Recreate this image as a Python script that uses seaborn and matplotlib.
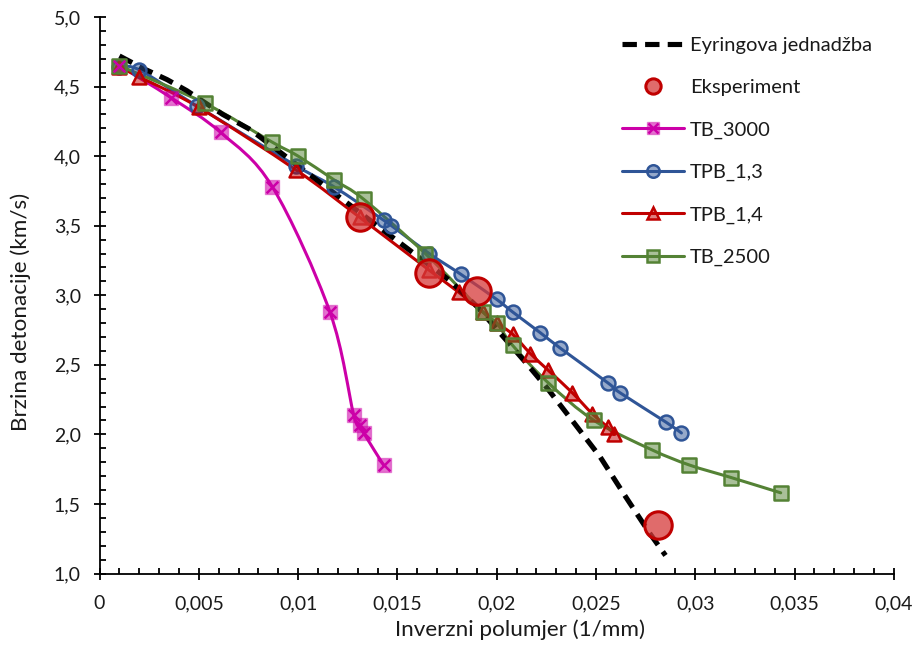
import numpy as np
import matplotlib
matplotlib.use("Agg")
import matplotlib.pyplot as plt
import seaborn as sns
from matplotlib.path import Path
from matplotlib.patches import PathPatch
from matplotlib.lines import Line2D
from matplotlib.ticker import MultipleLocator, FixedLocator, FixedFormatter

# ---------------- data ----------------
eyring_x = [0.001, 0.0022, 0.0034, 0.0044, 0.0062, 0.0076, 0.0100, 0.0125, 0.0150,
            0.0176, 0.0190, 0.0215, 0.0225, 0.0238, 0.0252, 0.0265, 0.0277, 0.0285]
eyring_y = [4.72, 4.63, 4.55, 4.47, 4.30, 4.19, 3.93, 3.66, 3.39,
            3.11, 2.92, 2.51, 2.34, 2.10, 1.84, 1.55, 1.29, 1.13]

exp_x = [0.0131, 0.0166, 0.0190, 0.0281]
exp_y = [3.56, 3.16, 3.03, 1.35]

tb3000_x = [0.001, 0.0036, 0.0061, 0.0087, 0.0116, 0.0128, 0.0131, 0.0133, 0.0143]
tb3000_y = [4.65, 4.42, 4.17, 3.78, 2.88, 2.14, 2.07, 2.01, 1.78]

tpb13_x = [0.001, 0.0020, 0.0049, 0.0099, 0.0118, 0.0143, 0.0147, 0.0166, 0.0182,
           0.0200, 0.0208, 0.0222, 0.0232, 0.0256, 0.0262, 0.0285, 0.0293]
tpb13_y = [4.64, 4.62, 4.36, 3.93, 3.78, 3.54, 3.50, 3.30, 3.15,
           2.97, 2.88, 2.73, 2.62, 2.37, 2.30, 2.09, 2.01]

tpb14_x = [0.001, 0.0020, 0.0050, 0.0099, 0.0131, 0.0166, 0.0181, 0.0193, 0.0200,
           0.0208, 0.0217, 0.0226, 0.0238, 0.0248, 0.0256, 0.0259]
tpb14_y = [4.64, 4.57, 4.35, 3.90, 3.56, 3.18, 3.02, 2.88, 2.80,
           2.72, 2.58, 2.46, 2.30, 2.15, 2.05, 2.00]

tb2500_x = [0.001, 0.0053, 0.0087, 0.0100, 0.0118, 0.0133, 0.0164, 0.0193, 0.0200,
            0.0208, 0.0226, 0.0249, 0.0278, 0.0297, 0.0318, 0.0343]
tb2500_y = [4.65, 4.38, 4.10, 4.00, 3.83, 3.69, 3.30, 2.88, 2.80,
            2.64, 2.37, 2.10, 1.89, 1.78, 1.69, 1.58]

x_ticks = [0, 0.005, 0.01, 0.015, 0.02, 0.025, 0.03, 0.035, 0.04]
x_tick_labels = ["0", "0,005", "0,01", "0,015", "0,02", "0,025", "0,03", "0,035", "0,04"]
y_ticks = [1.0, 1.5, 2.0, 2.5, 3.0, 3.5, 4.0, 4.5, 5.0]
y_tick_labels = ["1,0", "1,5", "2,0", "2,5", "3,0", "3,5", "4,0", "4,5", "5,0"]

labels = ["Eyringova jednadžba", "Eksperiment", "TB_3000", "TPB_1,3", "TPB_1,4", "TB_2500"]
x_label = "Inverzni polumjer (1/mm)"
y_label = "Brzina detonacije (km/s)"

# ---------------- style ----------------
sns.set_theme(style="white")
plt.rcParams["font.family"] = ["Lato", "DejaVu Sans"]
FS_TICK = 14
FS_LAB = 16.2
FS_LEG = 14.5
TXT = "#1a1a1a"

C_MAG = "#CC00A8"
C_BLUE = "#2F5597"
C_RED = "#C00000"
C_GREEN = "#548235"


def rgba(c, a):
    r, g, b = matplotlib.colors.to_rgb(c)
    return (r, g, b, a)


def smooth_path(xs, ys):
    pts = np.column_stack([xs, ys]).astype(float)
    n = len(pts)
    verts = [pts[0]]
    codes = [Path.MOVETO]
    for i in range(n - 1):
        p0 = pts[i - 1] if i > 0 else pts[i]
        p1 = pts[i]
        p2 = pts[i + 1]
        p3 = pts[i + 2] if i + 2 < n else pts[i + 1]
        verts += [p1 + (p2 - p0) / 6.0, p2 - (p3 - p1) / 6.0, p2]
        codes += [Path.CURVE4] * 3
    return Path(np.array(verts), codes)


fig, ax = plt.subplots(figsize=(9.14, 6.46), dpi=100)
fig.subplots_adjust(left=0.1089, right=0.978, bottom=0.1122, top=0.9737)

LW = 2.2
DASH = (0, (2.8, 1.6))

# smooth lines
for xs, ys, c in [(tb3000_x, tb3000_y, C_MAG), (tpb13_x, tpb13_y, C_BLUE),
                  (tpb14_x, tpb14_y, C_RED), (tb2500_x, tb2500_y, C_GREEN)]:
    ax.add_patch(PathPatch(smooth_path(xs, ys), fill=False, edgecolor=c,
                           linewidth=LW, zorder=2, capstyle="round"))

# Eyring dashed
sns.lineplot(x=eyring_x, y=eyring_y, sort=False, ax=ax, color="black",
             linewidth=3.7, linestyle=DASH, zorder=3)

# markers
MS = 100
sns.scatterplot(x=tb3000_x, y=tb3000_y, marker="s", s=MS, color=rgba(C_MAG, 0.55),
                edgecolor=rgba(C_MAG, 0.4), linewidth=1.0, ax=ax, zorder=4)
sns.scatterplot(x=tb3000_x, y=tb3000_y, marker="x", s=70, color=C_MAG,
                linewidth=1.8, ax=ax, zorder=5)
sns.scatterplot(x=tpb13_x, y=tpb13_y, marker="o", s=MS, color=rgba(C_BLUE, 0.5),
                edgecolor=C_BLUE, linewidth=1.8, ax=ax, zorder=4)
sns.scatterplot(x=tpb14_x, y=tpb14_y, marker="^", s=MS, color=rgba(C_RED, 0.5),
                edgecolor=C_RED, linewidth=1.8, ax=ax, zorder=4)
sns.scatterplot(x=tb2500_x, y=tb2500_y, marker="s", s=MS, color=rgba(C_GREEN, 0.5),
                edgecolor=C_GREEN, linewidth=1.8, ax=ax, zorder=4)
sns.scatterplot(x=exp_x, y=exp_y, marker="o", s=390, color=rgba("#D63A3A", 0.75),
                edgecolor=C_RED, linewidth=2.2, ax=ax, zorder=6)

# axes
ax.set_xlim(0, 0.04)
ax.set_ylim(1.0, 5.0)
ax.xaxis.set_major_locator(FixedLocator(x_ticks))
ax.xaxis.set_major_formatter(FixedFormatter(x_tick_labels))
ax.yaxis.set_major_locator(FixedLocator(y_ticks))
ax.yaxis.set_major_formatter(FixedFormatter(y_tick_labels))
ax.xaxis.set_minor_locator(MultipleLocator(0.001))
ax.yaxis.set_minor_locator(MultipleLocator(0.1))
ax.tick_params(which="major", direction="inout", length=9, width=1.3,
               colors="black", labelsize=FS_TICK, labelcolor=TXT,
               bottom=True, left=True)
ax.tick_params(axis="x", which="major", pad=11)
ax.tick_params(axis="y", which="major", pad=9)
ax.tick_params(which="minor", direction="in", length=4.5, width=1.3,
               colors="black", bottom=True, left=True)
for s in ["top", "right"]:
    ax.spines[s].set_visible(False)
for s in ["left", "bottom"]:
    ax.spines[s].set_color("black")
    ax.spines[s].set_linewidth(1.3)
ax.grid(False)
ax.set_xlabel(x_label, fontsize=FS_LAB, color=TXT)
ax.set_ylabel(y_label, fontsize=FS_LAB, color=TXT)
ax.xaxis.set_label_coords(0.529, -0.083)
ax.yaxis.set_label_coords(-0.086, 0.47)

# legend
h_ey = Line2D([], [], color="black", linewidth=3.7, linestyle=DASH)
h_ex = Line2D([], [], linestyle="none", marker="o", markersize=11,
              markerfacecolor=rgba("#D63A3A", 0.75), markeredgecolor=C_RED, markeredgewidth=2.2)
h_m1 = Line2D([], [], color=C_MAG, linewidth=LW, marker="s", markersize=9,
              markerfacecolor=rgba(C_MAG, 0.55), markeredgecolor=rgba(C_MAG, 0.4))
h_m2 = Line2D([], [], linestyle="none", marker="x", markersize=7.5,
              markeredgecolor=C_MAG, markeredgewidth=1.8)
h_b = Line2D([], [], color=C_BLUE, linewidth=LW, marker="o", markersize=9,
             markerfacecolor=rgba(C_BLUE, 0.5), markeredgecolor=C_BLUE, markeredgewidth=1.8)
h_r = Line2D([], [], color=C_RED, linewidth=LW, marker="^", markersize=9,
             markerfacecolor=rgba(C_RED, 0.5), markeredgecolor=C_RED, markeredgewidth=1.8)
h_g = Line2D([], [], color=C_GREEN, linewidth=LW, marker="s", markersize=9,
             markerfacecolor=rgba(C_GREEN, 0.5), markeredgecolor=C_GREEN, markeredgewidth=1.8)
ax.legend([h_ey, h_ex, (h_m1, h_m2), h_b, h_r, h_g], labels,
          loc="upper left", bbox_to_anchor=(0.680, 0.943), bbox_transform=fig.transFigure,
          frameon=False, fontsize=FS_LEG, handlelength=3.1, handletextpad=0.3,
          labelspacing=1.25, borderpad=0, borderaxespad=0, labelcolor=TXT)

fig.savefig("out.png", dpi=100)
